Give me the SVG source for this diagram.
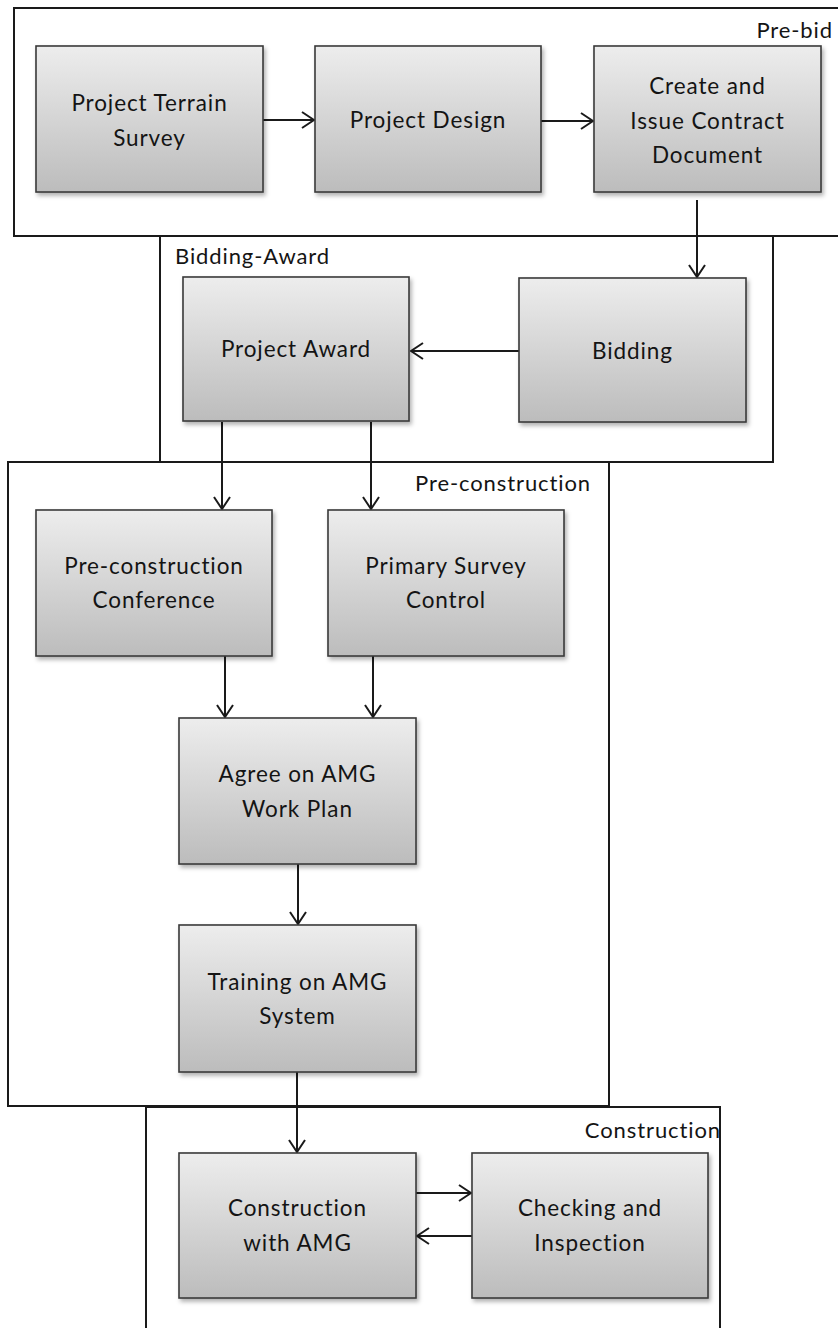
<svg xmlns="http://www.w3.org/2000/svg" width="838" height="1328" viewBox="0 0 838 1328">
  <style>
    .phase { fill: none; stroke: #1a1a1a; stroke-width: 2; }
    .box { fill: url(#boxFill); stroke: #3a3a3a; stroke-width: 1.6; filter: url(#shadow); }
    .txt { font-family: Lato, "Open Sans", "Liberation Sans", sans-serif; font-size: 22.5px; letter-spacing: 0.9px; fill: #141414; text-anchor: middle; }
    .lbl { font-family: Lato, "Open Sans", "Liberation Sans", sans-serif; font-size: 22px; letter-spacing: 0.9px; fill: #141414; }
    .end { text-anchor: end; }
    .conn { fill: none; stroke: #1a1a1a; stroke-width: 2; marker-end: url(#arrow); }
  </style>
  <defs>
    <linearGradient id="boxFill" x1="0" y1="0" x2="0" y2="1">
      <stop offset="0" stop-color="#ededed"/>
      <stop offset="1" stop-color="#bcbcbc"/>
    </linearGradient>
    <filter id="shadow" x="-10%" y="-10%" width="125%" height="125%">
      <feDropShadow dx="2" dy="3" stdDeviation="2" flood-color="#000" flood-opacity="0.3"/>
    </filter>
    <marker id="arrow" viewBox="0 0 14 18" refX="13" refY="9" markerWidth="14" markerHeight="18" markerUnits="userSpaceOnUse" orient="auto">
      <path d="M1,1 L13,9 L1,17" fill="none" stroke="#1a1a1a" stroke-width="2"/>
    </marker>
  </defs>

  <rect width="838" height="1328" fill="#ffffff"/>

  <!-- Phase frames -->
  <g id="phases">
    <rect class="phase" x="14" y="8" width="840" height="228"/>
    <text class="lbl end" x="833" y="38">Pre-bid</text>
    <rect class="phase" x="160" y="236" width="613" height="226"/>
    <text class="lbl" x="175" y="264">Bidding-Award</text>
    <rect class="phase" x="8" y="462" width="601" height="644"/>
    <text class="lbl end" x="591" y="491">Pre-construction</text>
    <rect class="phase" x="146" y="1107" width="574" height="240"/>
    <text class="lbl end" x="721" y="1138">Construction</text>
  </g>

  <!-- Connectors -->
  <g id="connectors">
    <line class="conn" x1="263" y1="120" x2="314" y2="120"/>
    <line class="conn" x1="541" y1="121" x2="593" y2="121"/>
    <line class="conn" x1="697" y1="200" x2="697" y2="277"/>
    <line class="conn" x1="519" y1="351" x2="411" y2="351"/>
    <line class="conn" x1="222" y1="422" x2="222" y2="509"/>
    <line class="conn" x1="371" y1="422" x2="371" y2="509"/>
    <line class="conn" x1="225" y1="656" x2="225" y2="717"/>
    <line class="conn" x1="373" y1="656" x2="373" y2="717"/>
    <line class="conn" x1="298" y1="864" x2="298" y2="924"/>
    <line class="conn" x1="297" y1="1072" x2="297" y2="1152"/>
    <line class="conn" x1="416" y1="1193" x2="471" y2="1193"/>
    <line class="conn" x1="472" y1="1236" x2="417" y2="1236"/>
  </g>

  <!-- Process steps -->
  <g id="terrain-survey">
    <rect class="box" x="36" y="46" width="227" height="146"/>
    <text class="txt" x="149.5" y="111">Project Terrain</text>
    <text class="txt" x="149.5" y="146">Survey</text>
  </g>
  <g id="project-design">
    <rect class="box" x="315" y="46" width="226" height="146"/>
    <text class="txt" x="428" y="128">Project Design</text>
  </g>
  <g id="contract-document">
    <rect class="box" x="594" y="46" width="227" height="146"/>
    <text class="txt" x="707.5" y="94">Create and</text>
    <text class="txt" x="707.5" y="129">Issue Contract</text>
    <text class="txt" x="707.5" y="163">Document</text>
  </g>
  <g id="project-award">
    <rect class="box" x="183" y="277" width="226" height="144"/>
    <text class="txt" x="296" y="357">Project Award</text>
  </g>
  <g id="bidding">
    <rect class="box" x="519" y="278" width="227" height="144"/>
    <text class="txt" x="632.5" y="359">Bidding</text>
  </g>
  <g id="preconstruction-conference">
    <rect class="box" x="36" y="510" width="236" height="146"/>
    <text class="txt" x="154" y="574">Pre-construction</text>
    <text class="txt" x="154" y="608">Conference</text>
  </g>
  <g id="primary-survey-control">
    <rect class="box" x="328" y="510" width="236" height="146"/>
    <text class="txt" x="446" y="574">Primary Survey</text>
    <text class="txt" x="446" y="608">Control</text>
  </g>
  <g id="amg-work-plan">
    <rect class="box" x="179" y="718" width="237" height="146"/>
    <text class="txt" x="297.5" y="782">Agree on AMG</text>
    <text class="txt" x="297.5" y="817">Work Plan</text>
  </g>
  <g id="amg-training">
    <rect class="box" x="179" y="925" width="237" height="147"/>
    <text class="txt" x="297.5" y="990">Training on AMG</text>
    <text class="txt" x="297.5" y="1024">System</text>
  </g>
  <g id="construction-amg">
    <rect class="box" x="179" y="1153" width="237" height="145"/>
    <text class="txt" x="297.5" y="1216">Construction</text>
    <text class="txt" x="297.5" y="1251">with AMG</text>
  </g>
  <g id="checking-inspection">
    <rect class="box" x="472" y="1153" width="236" height="145"/>
    <text class="txt" x="590" y="1216">Checking and</text>
    <text class="txt" x="590" y="1251">Inspection</text>
  </g>
</svg>
